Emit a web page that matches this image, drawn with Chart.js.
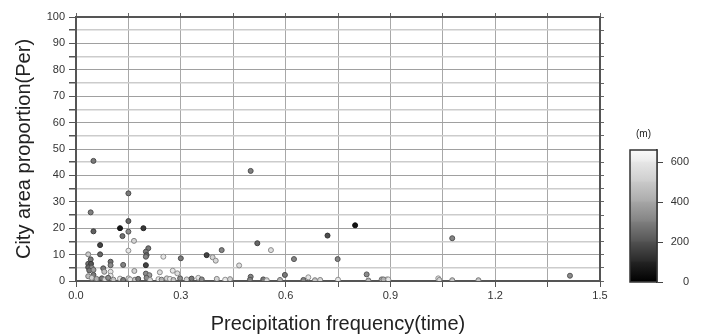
<!DOCTYPE html>
<html><head><meta charset="utf-8">
<script src="https://cdn.jsdelivr.net/npm/chart.js@4/dist/chart.umd.min.js"></script>
<style>
html,body{margin:0;padding:0;background:#fff;overflow:hidden}
#wrap{position:relative;width:702px;height:336px}
#main{position:absolute;left:0;top:0}
#bar{position:absolute;left:600px;top:120px}
</style></head><body>
<div id="wrap">
<canvas id="main" width="702" height="336"></canvas>
<canvas id="bar" width="102" height="180"></canvas>
</div>
<script>
// ---- data ----
const freq = [0.05,0.042,0.05,0.069,0.069,0.035,0.042,0.035,0.043,0.035,0.045,0.038,0.05,0.05,0.035,0.045,0.078,0.081,0.099,0.099,0.099,0.099,0.126,0.133,0.15,0.15,0.15,0.15,0.135,0.166,0.167,0.193,0.207,0.2,0.202,0.2,0.2,0.2,0.21,0.25,0.24,0.26,0.277,0.29,0.3,0.374,0.391,0.4,0.417,0.467,0.5,0.5,0.519,0.558,0.598,0.624,0.665,0.72,0.749,0.799,0.832,0.75,0.875,0.89,1.037,1.077,1.414,1.077,1.152,1.04,
  0.059,0.074,0.083,0.092,0.107,0.126,0.135,0.15,0.155,0.169,0.178,0.202,0.212,0.236,0.245,0.269,0.279,0.298,0.317,0.331,0.35,0.36,0.403,0.427,0.441,0.498,0.536,0.546,0.584,0.651,0.684,0.699,0.837,0.88,0.894];
const areaPct = [45.5,26,18.8,13.6,10.1,10.1,8.2,6.5,6.5,5.2,5.0,4.0,4.2,2.3,1.8,1.2,4.8,3.5,7.3,6.0,3.5,2.0,20,17,33.2,22.7,18.7,11.5,6.1,15.2,3.8,20,12.4,11.1,9.8,9.2,6.0,2.8,2.2,9.2,3.3,1.0,3.9,2.9,8.6,9.8,9.0,7.7,11.7,5.9,41.7,1.6,14.3,11.7,2.3,8.3,1.4,17.2,8.3,21.1,2.5,0.5,0.6,0.6,1.0,16.2,2.0,0.3,0.3,0.4,
  0.8,1.0,0.6,1.2,0.5,0.9,0.4,1.0,0.6,0.5,0.8,1.2,0.4,0.7,0.5,0.8,0.4,1.0,0.6,0.9,1.2,0.6,0.8,0.5,0.7,0.5,0.6,0.3,0.4,0.4,0.3,0.4,0.2,0.6,0.6];
const elevation = [300,320,230,150,250,520,300,280,200,250,350,300,400,300,480,550,300,500,280,350,600,600,30,280,300,250,350,600,330,550,550,120,300,300,250,330,150,350,400,600,580,550,600,580,300,150,550,560,330,580,320,330,250,580,300,330,600,180,330,20,350,600,450,600,600,330,350,500,500,550,
  450,300,550,350,500,600,300,550,600,500,300,350,550,600,450,600,500,350,550,300,600,350,550,600,550,330,300,550,450,330,500,550,450,450,600];
const xTickValues = [0,0.15,0.3,0.45,0.6,0.75,0.9,1.05,1.2,1.35,1.5];
const bandEdges = [0,100,200,300,400,500,600,660];
const bandLow  = [0,   40,  85, 130, 170, 205, 235];
const bandHigh = [35,  80, 125, 165, 200, 230, 250];
const barTicks = [0,200,400,600];

const FONT = "'Liberation Sans', Arial, Helvetica, sans-serif";
function gval(e){ return Math.round(12 + Math.min(e,660)/660*240); }
function grayFor(e){ const g = gval(e); return 'rgb('+g+','+g+','+g+')'; }
function edgeFor(e){ const g = Math.round(gval(e)*0.62); return 'rgb('+g+','+g+','+g+')'; }

const pts = freq.map((x,i)=>({x:x, y:areaPct[i]}));

new Chart(document.getElementById('main'),{
  type:'scatter',
  data:{datasets:[{
    data:pts,
    pointRadius:2.5,
    pointBorderWidth:1,
    pointBackgroundColor:ctx=>grayFor(elevation[ctx.dataIndex]),
    pointBorderColor:ctx=>edgeFor(elevation[ctx.dataIndex])
  }]},
  options:{
    responsive:false, animation:false,
    layout:{padding:{left:0,top:13,right:98,bottom:0}},
    plugins:{legend:{display:false},tooltip:{enabled:false}},
    scales:{
      x:{type:'linear',position:'bottom',min:0,max:1.5,
        afterBuildTicks:s=>{s.ticks = xTickValues.map(v=>({value:v}));},
        ticks:{autoSkip:false,maxRotation:0,padding:2,color:'#333',font:{family:FONT,size:11},
          callback:(v,i)=> i%2===0 ? Number(v).toFixed(1) : ''},
        grid:{color:'#a8a8a8',lineWidth:1,tickLength:6,tickColor:'#555'},
        border:{color:'#555',width:2},
        title:{display:true,text:'Precipitation frequency(time)',color:'#222',font:{family:FONT,size:20},padding:{top:0,bottom:0}},
        afterFit:s=>{s.height=55;}
      },
      x2:{type:'linear',position:'top',min:0,max:1.5,
        afterBuildTicks:s=>{s.ticks = xTickValues.map(v=>({value:v}));},
        ticks:{display:false},
        grid:{drawOnChartArea:false,tickLength:4,color:'#666'},
        border:{color:'#555',width:2},
        afterFit:s=>{s.height=4;}
      },
      y:{type:'linear',position:'left',min:0,max:100,
        ticks:{stepSize:5,autoSkip:false,padding:4,color:'#333',font:{family:FONT,size:11},
          callback:v=> v%10===0 ? String(v) : ''},
        grid:{color:ctx=> (ctx.tick && ctx.tick.value%10===0) ? '#a0a0a0' : '#cccccc',lineWidth:ctx=> (ctx.tick && ctx.tick.value%10===0) ? 1 : 1.5,tickLength:7,tickColor:'#555'},
        border:{color:'#555',width:2},
        title:{display:true,text:'City area proportion(Per)',color:'#222',font:{family:FONT,size:20},padding:{top:12,bottom:0}},
        afterFit:s=>{s.width=76;}
      },
      y2:{type:'linear',position:'right',min:0,max:100,
        ticks:{display:false,stepSize:5},
        grid:{drawOnChartArea:false,tickLength:4,color:'#666'},
        border:{color:'#555',width:2},
        afterFit:s=>{s.width=4;}
      }
    }
  }
});

const frame = {id:'frame',afterDraw(c){const a=c.chartArea,x=c.ctx;x.save();x.strokeStyle='#333';x.lineWidth=1.5;x.strokeRect(a.left,a.top,a.right-a.left,a.bottom-a.top);x.restore();}};

function bandFill(i){
  return ctx=>{
    const ch = ctx.chart, a = ch.chartArea;
    if(!a) return '#888';
    const ys = ch.scales.y;
    const y0 = ys.getPixelForValue(bandEdges[i]), y1 = ys.getPixelForValue(bandEdges[i+1]);
    const g = ch.ctx.createLinearGradient(0,y0,0,y1);
    const lo = bandLow[i], hi = bandHigh[i];
    g.addColorStop(0,'rgb('+lo+','+lo+','+lo+')');
    g.addColorStop(1,'rgb('+hi+','+hi+','+hi+')');
    return g;
  };
}

new Chart(document.getElementById('bar'),{
  type:'bar',
  data:{labels:['(m)'],
    datasets:bandLow.map((c,i)=>({data:[bandEdges[i+1]-bandEdges[i]],backgroundColor:bandFill(i),borderWidth:0,barPercentage:1,categoryPercentage:1}))},
  options:{
    responsive:false, animation:false,
    layout:{padding:{left:30,right:13,top:0,bottom:18}},
    plugins:{legend:{display:false},tooltip:{enabled:false}},
    scales:{
      x:{position:'top',stacked:true,grid:{display:false},border:{display:false},
        ticks:{color:'#222',padding:2,font:{family:FONT,size:10}},
        afterFit:s=>{s.height=30;}},
      y:{position:'right',stacked:true,min:0,max:660,
        afterBuildTicks:s=>{s.ticks = barTicks.map(v=>({value:v}));},
        ticks:{crossAlign:'far',padding:3,color:'#333',font:{family:FONT,size:11}},
        grid:{drawOnChartArea:false,tickLength:6,color:'#444'},
        border:{color:'#333',width:1.5},
        afterFit:s=>{s.width=32;}}
    }
  },
  plugins:[frame]
});
</script>
</body></html>
